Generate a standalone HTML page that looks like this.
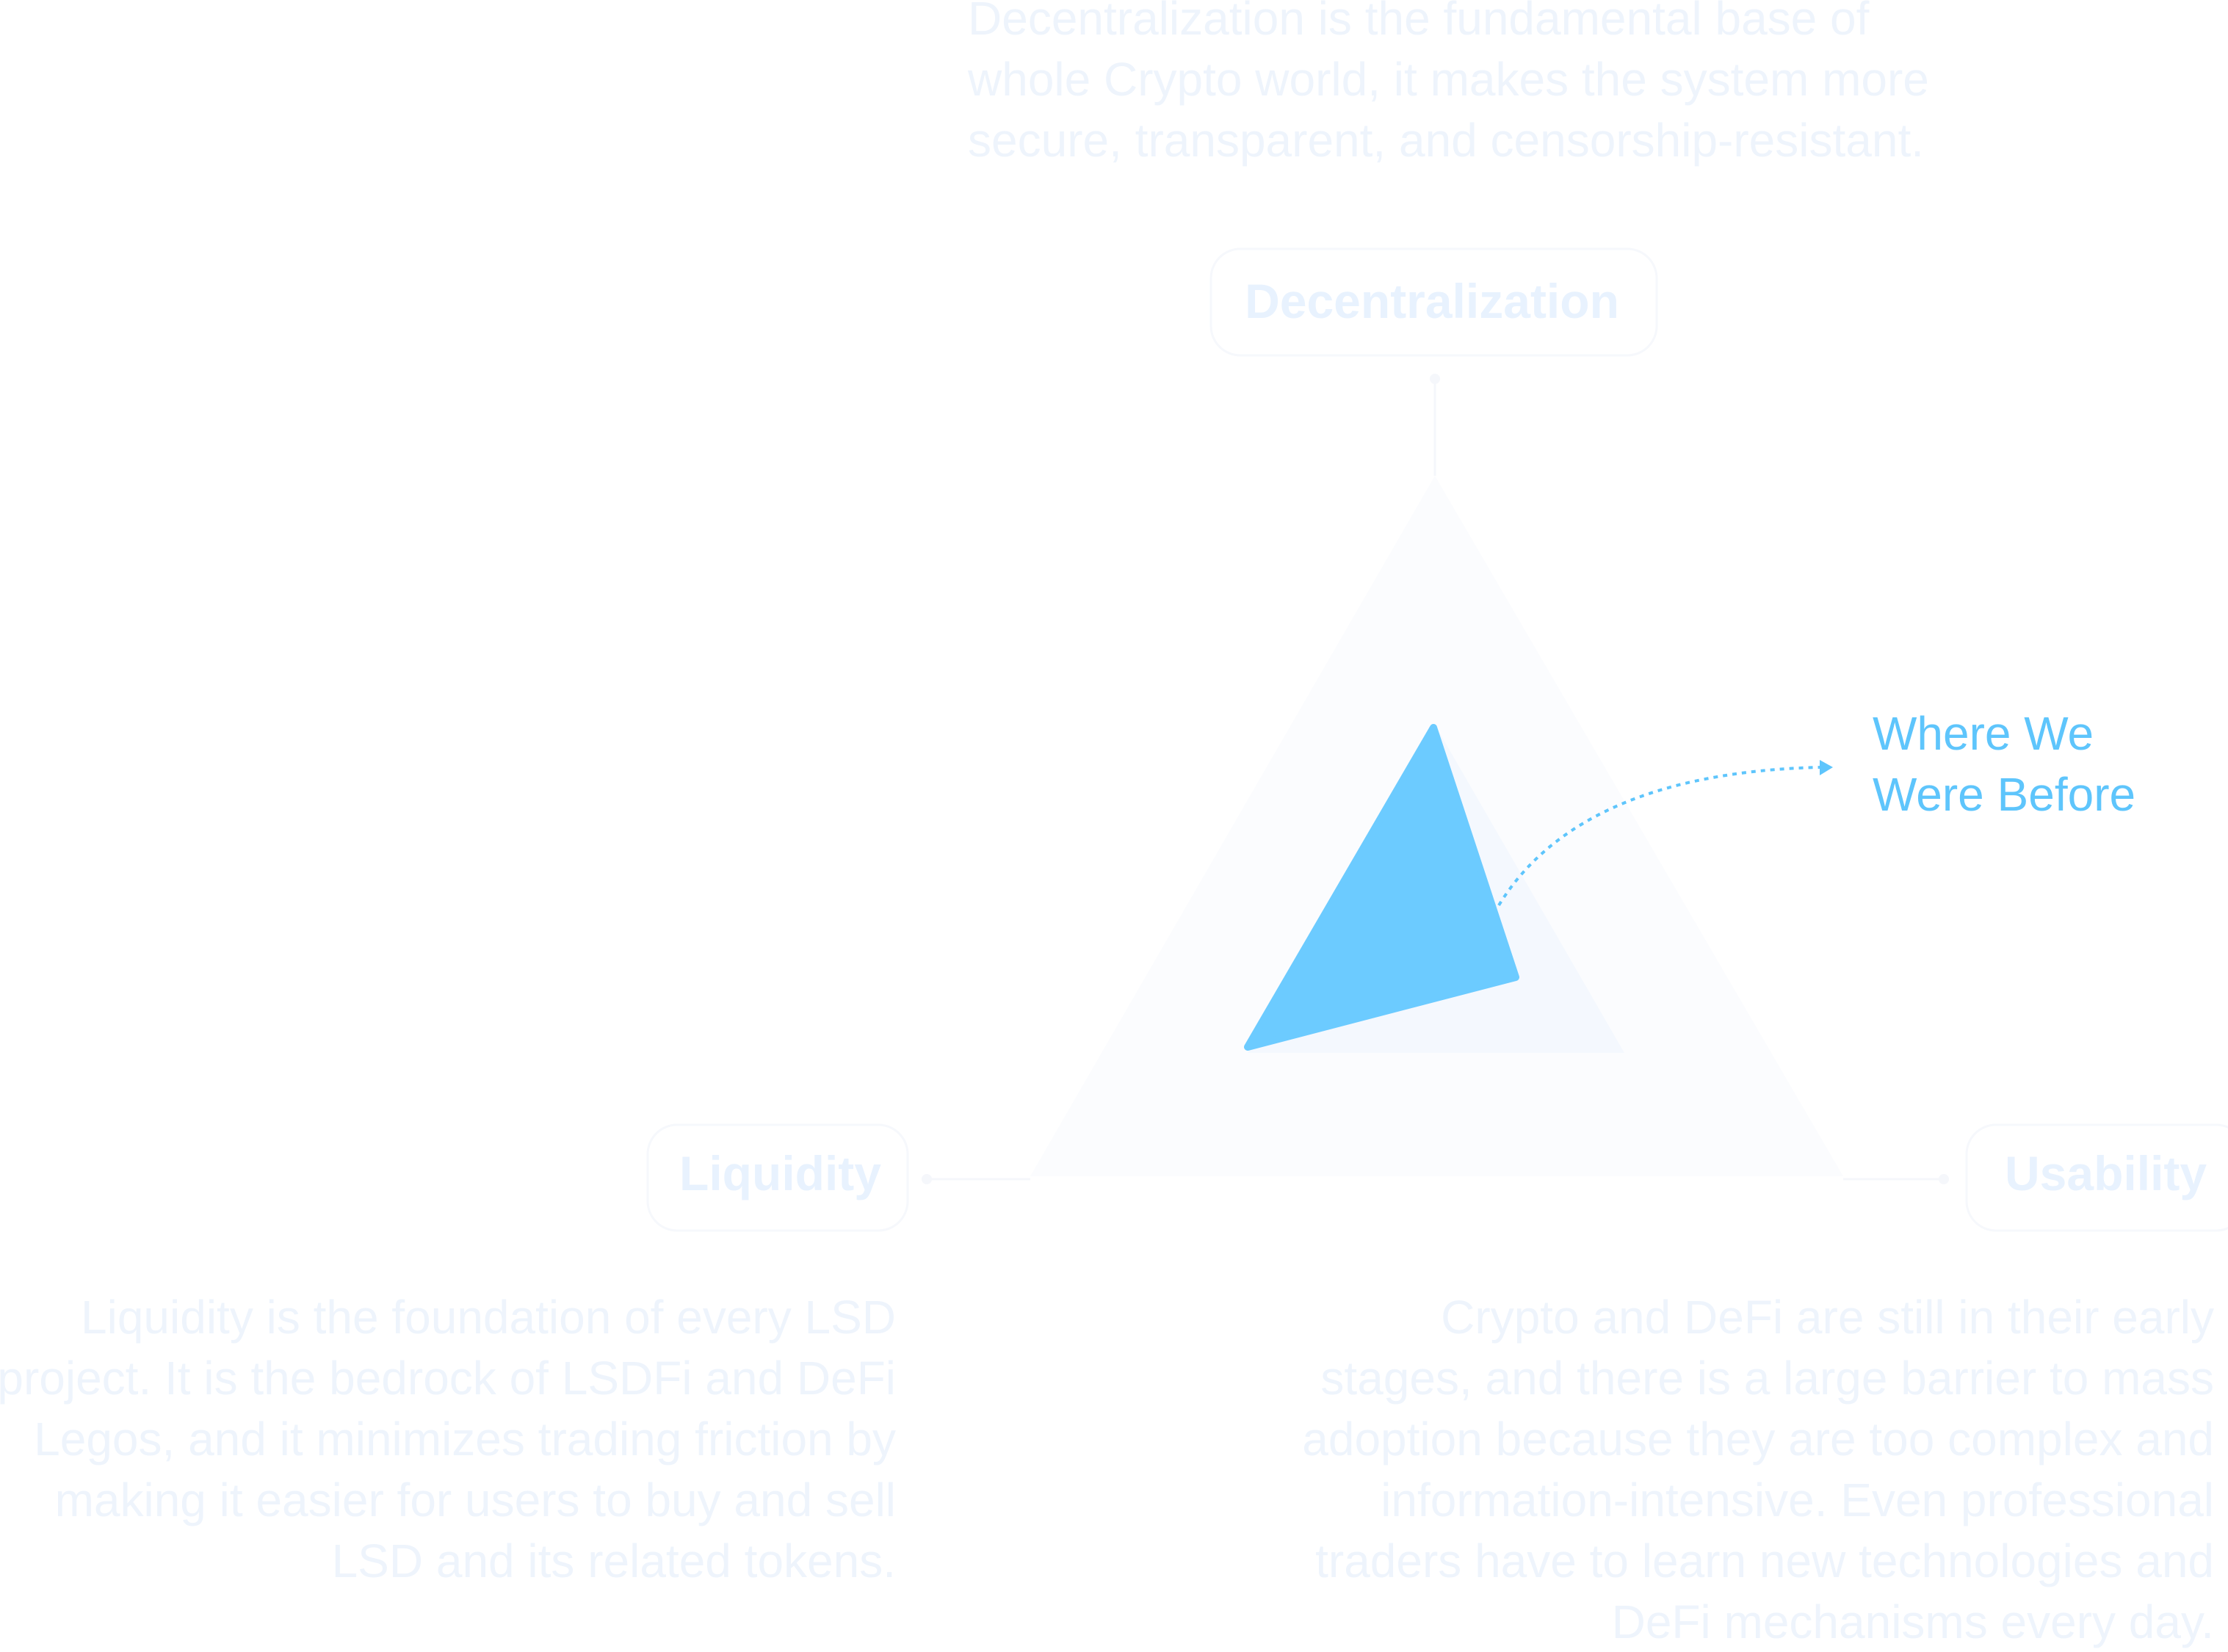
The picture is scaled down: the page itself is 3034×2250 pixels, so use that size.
<!DOCTYPE html>
<html><head><meta charset="utf-8"><style>
html,body{margin:0;padding:0;background:#fff;}
svg{display:block;}
text{font-family:"Liberation Sans",sans-serif;}
</style></head><body>
<svg width="3034" height="2250" viewBox="0 0 3034 2250" xmlns="http://www.w3.org/2000/svg">
<rect width="3034" height="2250" fill="#fff"/>
<g fill="#eef4fc" font-size="64">
<text x="1318" y="47">Decentralization is the fundamental base of</text>
<text x="1318" y="130">whole Crypto world, it makes the system more</text>
<text x="1318" y="213">secure, transparent, and censorship-resistant.</text>
</g>
<rect x="1649" y="339" width="607" height="145" rx="40" fill="none" stroke="#f6f8fc" stroke-width="3"/>
<text x="1950" y="433" text-anchor="middle" font-size="66" font-weight="bold" fill="#e8f2fe">Decentralization</text>
<line x1="1954" y1="516" x2="1954" y2="648" stroke="#f5f7fb" stroke-width="3"/>
<circle cx="1954" cy="516" r="7" fill="#f5f7fb"/>
<polygon points="1954,648 2510,1602 1403,1602" fill="#fbfcfe"/>
<polygon points="1954,987 2212,1434 1699,1434" fill="#f4f8fe"/>
<polygon points="1952,991 2064,1331 1699,1426" fill="#6ccbff" stroke="#6ccbff" stroke-width="10" stroke-linejoin="round"/>
<path d="M2041,1233 C2110,1120 2250,1050 2480,1045" fill="none" stroke="#5ec5fc" stroke-width="4" stroke-dasharray="6,7"/>
<polygon points="2496,1045 2478,1035 2478,1056" fill="#5ec5fc"/>
<g fill="#5ec5fc" font-size="64">
<text x="2550" y="1021">Where We</text>
<text x="2550" y="1104">Were Before</text>
</g>
<line x1="1262" y1="1606" x2="1403" y2="1606" stroke="#f5f7fb" stroke-width="3"/>
<circle cx="1262" cy="1606" r="7" fill="#f5f7fb"/>
<line x1="2510" y1="1606" x2="2647" y2="1606" stroke="#f5f7fb" stroke-width="3"/>
<circle cx="2647" cy="1606" r="7" fill="#f5f7fb"/>
<rect x="882" y="1532" width="354" height="144" rx="40" fill="none" stroke="#f6f8fc" stroke-width="3"/>
<text x="1200" y="1621" text-anchor="end" font-size="66" font-weight="bold" fill="#e8f2fe">Liquidity</text>
<rect x="2678" y="1532" width="380" height="144" rx="40" fill="none" stroke="#f6f8fc" stroke-width="3"/>
<text x="2730" y="1621" font-size="66" font-weight="bold" fill="#e8f2fe">Usability</text>
<g fill="#eef4fc" font-size="64" text-anchor="end">
<text x="1220" y="1816">Liquidity is the foundation of every LSD</text>
<text x="1220" y="1899">project. It is the bedrock of LSDFi and DeFi</text>
<text x="1220" y="1982">Legos, and it minimizes trading friction by</text>
<text x="1220" y="2065">making it easier for users to buy and sell</text>
<text x="1220" y="2148">LSD and its related tokens.</text>
</g>
<g fill="#eef4fc" font-size="64" text-anchor="end">
<text x="3015" y="1816">Crypto and DeFi are still in their early</text>
<text x="3015" y="1899">stages, and there is a large barrier to mass</text>
<text x="3015" y="1982">adoption because they are too complex and</text>
<text x="3015" y="2065">information-intensive. Even professional</text>
<text x="3015" y="2148">traders have to learn new technologies and</text>
<text x="3015" y="2231">DeFi mechanisms every day.</text>
</g>
</svg>
</body></html>
